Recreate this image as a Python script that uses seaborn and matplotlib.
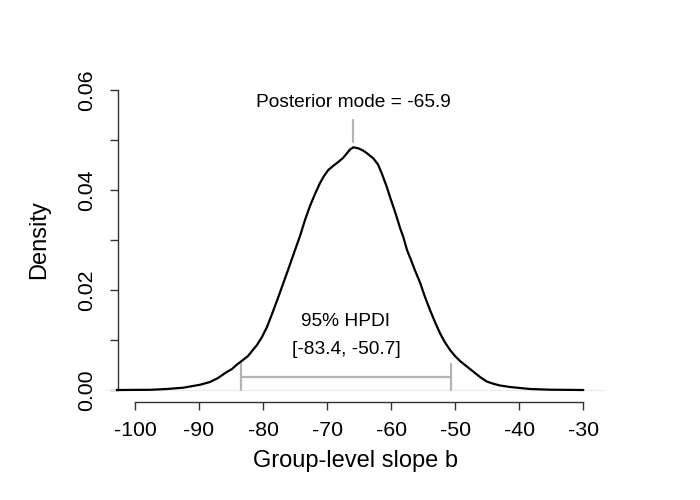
import matplotlib
matplotlib.use("Agg")
import matplotlib.pyplot as plt
import seaborn as sns
import pandas as pd

# Posterior density of the group-level slope
slope_b = [-102.86, -97.66, -95.05, -92.45, -89.84, -88.28, -87.03, -85.78, -84.84,
           -84.06, -83.13, -82.34, -81.72, -80.94, -80.16, -79.38, -78.59, -77.66,
           -76.88, -76.09, -75.16, -74.22, -73.44, -72.66, -71.88, -71.09, -70.47,
           -69.80, -69.06, -68.44, -67.50, -66.72, -66.41, -65.89, -65.11, -64.38,
           -63.75, -62.77, -62.03, -61.41, -60.67, -60.16, -59.64, -59.06, -58.59,
           -58.08, -57.50, -56.88, -56.25, -55.47, -54.69, -53.91, -53.13, -52.34,
           -51.56, -50.78, -50.00, -49.22, -48.44, -47.66, -46.88, -46.09, -45.05,
           -44.02, -42.97, -41.41, -38.28, -35.16, -29.95]
density = [0.0000, 0.00004, 0.0002, 0.00046, 0.00105, 0.0016, 0.0024, 0.0035, 0.0042,
           0.0051, 0.0060, 0.0068, 0.0078, 0.0090, 0.0106, 0.0126, 0.0152, 0.0184,
           0.0212, 0.0240, 0.0274, 0.0308, 0.0340, 0.0368, 0.0392, 0.0414, 0.0428,
           0.0440, 0.0448, 0.0454, 0.0464, 0.0476, 0.0481, 0.04854, 0.04834, 0.0479,
           0.04734, 0.04634, 0.0451, 0.0432, 0.04066, 0.0386, 0.03666, 0.0344, 0.0324,
           0.0306, 0.0280, 0.0260, 0.0239, 0.0215, 0.0186, 0.0160, 0.0136, 0.01134,
           0.0095, 0.0080, 0.0068, 0.0058, 0.0050, 0.0042, 0.0034, 0.0026, 0.0017,
           0.00125, 0.0009, 0.0006, 0.0002, 0.00006, 0.0000]

posterior_mode = -65.9
hpdi_low, hpdi_high = -83.4, -50.7

x_ticks = [-100, -90, -80, -70, -60, -50, -40, -30]
y_ticks = [0.00, 0.01, 0.02, 0.03, 0.04, 0.05, 0.06]
y_tick_labels = ["0.00", "", "0.02", "", "0.04", "", "0.06"]

df = pd.DataFrame({"slope_b": slope_b, "density": density})

sns.set_theme(style="white")
plt.rcParams["font.family"] = ["Liberation Sans", "DejaVu Sans"]
plt.rcParams["text.color"] = "black"
plt.rcParams["axes.labelcolor"] = "black"

fig = plt.figure(figsize=(7, 5), dpi=100)
ax = fig.add_axes([0.1517, 0.196, 0.8649 - 0.1517, 0.844 - 0.196])

grey = "#b3b3b3"
ax.axhline(0, color="#ebebeb", lw=1.0, zorder=1)
sns.lineplot(data=df, x="slope_b", y="density", color="black", lw=1.6, ax=ax, zorder=3)

# mode marker
ax.plot([posterior_mode, posterior_mode], [0.0497, 0.054], color=grey, lw=1.6)
ax.text(posterior_mode, 0.0575, f"Posterior mode = {posterior_mode}", ha="center",
        va="center", fontsize=13.8, color="black")

# HPDI bar
ax.plot([hpdi_low, hpdi_high], [0.00266, 0.00266], color=grey, lw=1.6)
ax.plot([hpdi_low, hpdi_low], [0, 0.0052], color=grey, lw=1.6)
ax.plot([hpdi_high, hpdi_high], [0, 0.0052], color=grey, lw=1.6)
mid = (hpdi_low + hpdi_high) / 2
ax.text(mid, 0.0137, "95% HPDI", ha="center", va="center", fontsize=13.8, color="black")
ax.text(mid, 0.0080, f"[{hpdi_low}, {hpdi_high}]", ha="center", va="center",
        fontsize=13.8, color="black")

ax.set_xlim(-104.5, -26.5)
ax.set_ylim(-0.0024, 0.0624)

for s in ["top", "right"]:
    ax.spines[s].set_visible(False)
axis_col = "#333333"
ax.spines["left"].set_position(("data", -102.66))
ax.spines["left"].set_bounds(0, 0.06)
ax.spines["bottom"].set_bounds(-100, -30)
for s in ["left", "bottom"]:
    ax.spines[s].set_color(axis_col)
    ax.spines[s].set_linewidth(1.0)

ax.set_xticks(x_ticks)
ax.set_xticklabels([str(t) for t in x_ticks])
ax.set_yticks(y_ticks)
ax.set_yticklabels(y_tick_labels, rotation=90, va="center")
ax.tick_params(axis="both", which="major", direction="out", length=6, width=1.0,
               color=axis_col, labelsize=15.3, labelcolor="black", bottom=True, left=True)
ax.tick_params(axis="x", pad=8)
ax.tick_params(axis="y", pad=10)

ax.set_xlabel("Group-level slope b", fontsize=17, labelpad=7, color="black")
ax.set_ylabel("Density", fontsize=17, labelpad=19, color="black")

fig.savefig("out.png", dpi=100)
